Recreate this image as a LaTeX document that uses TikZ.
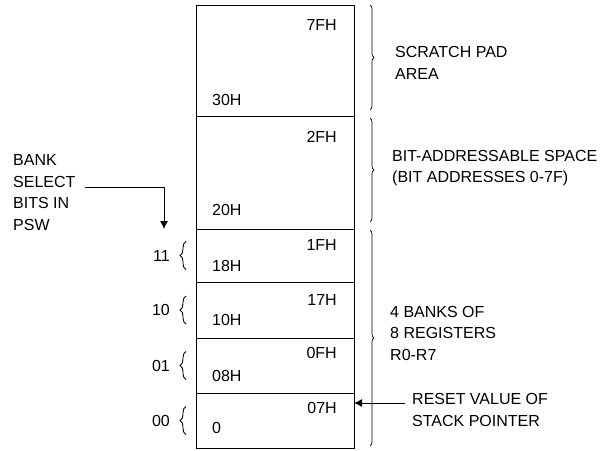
\documentclass[tikz,border=0pt]{standalone}
\usepackage{fontspec}
\setmainfont{Liberation Sans}
\usetikzlibrary{shapes,arrows.meta,positioning,decorations.pathreplacing}

\begin{document}
\begin{tikzpicture}[
    x=1pt, y=-1pt,
    font=\fontsize{16}{21.5}\selectfont,
    seg/.style={rectangle, draw, line width=0.9pt, minimum width=158pt, inner sep=0pt, outer sep=0pt},
    addr/.style={inner sep=0pt},
    txt/.style={align=left, inner sep=0pt},
    rbrace/.style={decorate, decoration={brace, amplitude=4pt}, line width=0.7pt},
    lbrace/.style={decorate, decoration={brace, amplitude=6pt}, line width=0.9pt},
    arrow/.style={-{Latex[length=8pt,width=8pt]}, line width=0.9pt}
]
    \useasboundingbox (0,0) rectangle (616,450);

    % Memory blocks
    \node[seg, minimum height=111pt, anchor=north west] (scratch) at (196,5) {};
    \node[seg, minimum height=113pt, below=0pt of scratch] (bitarea) {};
    \node[seg, minimum height=53pt, below=0pt of bitarea] (bank3) {};
    \node[seg, minimum height=56pt, below=0pt of bank3] (bank2) {};
    \node[seg, minimum height=55pt, below=0pt of bank2] (bank1) {};
    \node[seg, minimum height=55pt, below=0pt of bank1] (bank0) {};

    % Addresses
    \foreach \b/\hi/\lo/\dt/\db in {scratch/7FH/30H/20/16, bitarea/2FH/20H/21/19,
        bank3/1FH/18H/16/16, bank2/17H/10H/18/18, bank1/0FH/08H/15/17, bank0/07H/0/15/20} {
        \node[addr, anchor=east] (\b-hi) at ([xshift=-17pt,yshift=-\dt pt]\b.north east) {\hi};
        \node[addr, anchor=west] (\b-lo) at ([xshift=16pt,yshift=\db pt]\b.south west) {\lo};
    }

    % Braces
    \draw[rbrace] ([xshift=16pt]scratch.north east) -- ([xshift=16pt,yshift=6pt]scratch.south east);
    \draw[rbrace] ([xshift=16pt,yshift=-2pt]bitarea.north east) -- ([xshift=16pt,yshift=7pt]bitarea.south east);
    \draw[rbrace] ([xshift=16pt,yshift=-1pt]bank3.north east) -- ([xshift=16pt,yshift=2pt]bank0.south east);
    \foreach \b/\v in {bank3/11, bank2/10, bank1/01, bank0/00} {
        \draw[lbrace] ([xshift=-10pt,yshift=-14pt]\b.west) -- ([xshift=-10pt,yshift=14pt]\b.west);
        \node[addr, anchor=east] (\b-bits) at ([xshift=-26pt]\b.west) {\v};
    }

    % Texts
    \node[txt, anchor=west] (scratchtxt) at (395,63) {SCRATCH PAD\\AREA};
    \node[txt, anchor=west] (bittxt) at (392,168) {BIT-ADDRESSABLE SPACE\\(BIT ADDRESSES 0-7F)};
    \node[txt, anchor=west] (banktxt) at (390,333) {4 BANKS OF\\8 REGISTERS\\R0-R7};
    \node[txt, anchor=west] (reset) at (412,410) {RESET VALUE OF\\STACK POINTER};
    \node[txt, anchor=west] (banksel) at (13,192.5) {BANK\\SELECT\\BITS IN\\PSW};

    % Arrows
    \coordinate (selpt) at (164,229);
    \coordinate (resetpt) at ([xshift=-7pt,yshift=7pt]reset.west);
    \draw[arrow] ([xshift=9pt,yshift=5.5pt]banksel.east) -| (selpt);
    \draw[arrow] (resetpt) -- (resetpt -| bank0.east);
\end{tikzpicture}
\end{document}
